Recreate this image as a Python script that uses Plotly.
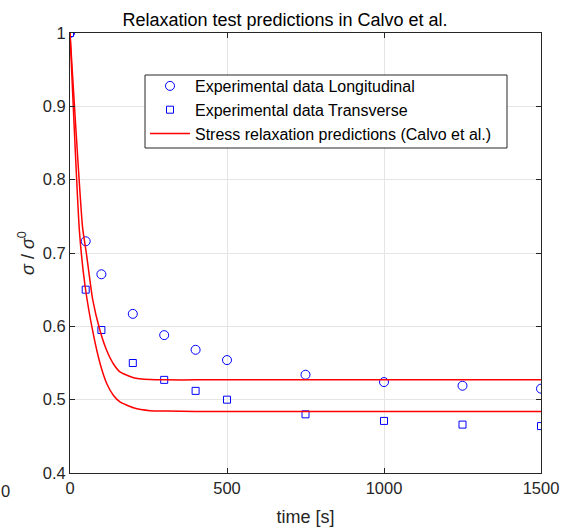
import plotly.graph_objects as go

t_exp = [0, 50, 100, 200, 300, 400, 500, 750, 1000, 1250, 1500]
long_exp = [1.0, 0.716, 0.671, 0.617, 0.588, 0.568, 0.554, 0.534, 0.524, 0.519, 0.515]
trans_exp = [1.0, 0.650, 0.595, 0.550, 0.527, 0.512, 0.500, 0.480, 0.471, 0.466, 0.464]

t_up = [0, 40, 52, 72, 95, 117, 138, 159, 202, 255, 308, 400, 600, 1000, 1500]
pred_up = [1.0, 0.735, 0.700, 0.637, 0.595, 0.567, 0.549, 0.538, 0.530, 0.5275, 0.527, 0.527, 0.527, 0.527, 0.527]
t_lo = [0, 30, 48, 74, 96, 117, 138, 159, 202, 255, 308, 400, 600, 1000, 1500]
pred_lo = [1.0, 0.730, 0.655, 0.590, 0.549, 0.522, 0.506, 0.497, 0.489, 0.485, 0.4845, 0.484, 0.484, 0.484, 0.484]

x_ticks = [0, 500, 1000, 1500]
y_ticks = [0.4, 0.5, 0.6, 0.7, 0.8, 0.9, 1.0]
y_tick_text = ["0.4", "0.5", "0.6", "0.7", "0.8", "0.9", "1"]

FONT = "Liberation Sans, Arial, sans-serif"
AX = "#262626"
L, R, T, B = 70, 22, 33, 55
PW, PH = 563 - L - R, 528 - T - B


def px_x(p):
    return (p - L) / PW


def px_y(p):
    return (528 - B - p) / PH


fig = go.Figure()
fig.add_trace(go.Scatter(x=t_exp, y=long_exp, mode="markers", name="Experimental data Longitudinal",
                         marker=dict(symbol="circle-open", size=9, color="blue", line=dict(width=1))))
fig.add_trace(go.Scatter(x=t_exp, y=trans_exp, mode="markers", name="Experimental data Transverse",
                         marker=dict(symbol="square-open", size=7, color="blue", line=dict(width=1))))
fig.add_trace(go.Scatter(x=t_up, y=pred_up, mode="lines", name="Stress relaxation predictions (Calvo et al.)",
                         line=dict(color="red", width=1.5, shape="spline", smoothing=0.5)))
fig.add_trace(go.Scatter(x=t_lo, y=pred_lo, mode="lines", showlegend=False,
                         line=dict(color="red", width=1.5, shape="spline", smoothing=0.5)))

fig.update_layout(
    template="none",
    width=563, height=528,
    margin=dict(l=L, r=R, t=T, b=B, pad=0, autoexpand=False),
    paper_bgcolor="white", plot_bgcolor="white",
    font=dict(family=FONT, size=16.5, color=AX),
    title=dict(text="Relaxation test predictions in Calvo et al.", x=285 / 563, xanchor="center",
               xref="container", yref="container", y=1 - 20 / 528, yanchor="middle",
               font=dict(size=18, color="black")),
    legend=dict(x=px_x(145), y=px_y(69), xanchor="left", yanchor="top",
                bgcolor="rgba(0,0,0,0)", borderwidth=0,
                font=dict(size=16, color="black"), tracegroupgap=0, itemwidth=40),
    showlegend=True,
    shapes=[dict(type="rect", xref="paper", yref="paper", x0=px_x(145), x1=px_x(507),
                 y0=px_y(148), y1=px_y(75), fillcolor="white", line=dict(color=AX, width=1),
                 layer="above")],
)
fig.update_xaxes(range=[0, 1500], tickvals=x_ticks, ticks="inside", ticklen=5, tickcolor=AX,
                 showline=True, linecolor=AX, linewidth=1, mirror="ticks", automargin=False,
                 showgrid=True, gridcolor="#e5e5e5", gridwidth=1, zeroline=False,
                 tickfont=dict(size=16.5, color=AX),
                 title=dict(text="time [s]", font=dict(size=18, color=AX), standoff=14))
fig.update_yaxes(range=[0.4, 1.0], tickvals=y_ticks, ticktext=y_tick_text, ticks="inside", ticklen=5, tickcolor=AX,
                 showline=True, linecolor=AX, linewidth=1, mirror="ticks", automargin=False,
                 showgrid=True, gridcolor="#e5e5e5", gridwidth=1, zeroline=False,
                 tickfont=dict(size=16.5, color=AX),
                 title=dict(text="<i>σ</i> / <i>σ</i><sup>0</sup>", font=dict(size=18, color=AX), standoff=3))
fig.add_annotation(text="0", xref="paper", yref="paper", x=px_x(5), y=px_y(491),
                   showarrow=False, xanchor="center", yanchor="middle", font=dict(size=16.5, color=AX))
fig.write_html("out.html")
